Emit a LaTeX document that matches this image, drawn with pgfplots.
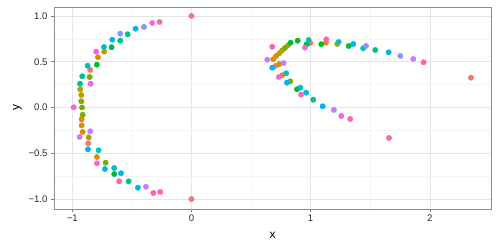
\documentclass[border=0pt]{standalone}
\usepackage{pgfplots}
\pgfplotsset{compat=1.18}
\usepackage{fontspec}
\setmainfont{Liberation Sans}
\definecolor{cR}{HTML}{F8766D}
\definecolor{cO}{HTML}{DE8C00}
\definecolor{cY}{HTML}{B79F00}
\definecolor{cYG}{HTML}{7CAE00}
\definecolor{cG}{HTML}{00BA38}
\definecolor{cTG}{HTML}{00C08B}
\definecolor{cT}{HTML}{00BFC4}
\definecolor{cC}{HTML}{00B4F0}
\definecolor{cB}{HTML}{8C94FF}
\definecolor{cP}{HTML}{C77CFF}
\definecolor{cM}{HTML}{F564E3}
\definecolor{cK}{HTML}{FF64B0}
\begin{document}
\begin{tikzpicture}
\path[use as bounding box] (0,0) rectangle (498bp,249bp);
\begin{axis}[
  at={(54bp,40bp)}, anchor=south west,
  scale only axis, width=437bp, height=202bp,
  xmin=-1.153, xmax=2.513, ymin=-1.109, ymax=1.098,
  xtick={-1,0,1,2}, xticklabels={−1,0,1,2},
  ytick={-1,-0.5,0,0.5,1}, yticklabels={−1.0,−0.5,0.0,0.5,1.0},
  minor xtick={-0.5,0.5,1.5,2.5}, minor ytick={-0.75,-0.25,0.25,0.75},
  grid=both,
  major grid style={color=black!10, line width=0.5pt},
  minor grid style={color=black!4, line width=0.5pt},
  axis line style={color=black!45, line width=0.6pt},
  tick style={color=black!50, line width=0.5pt},
  tick align=outside, major tick length=3bp, minor tick length=0pt,
  xtick pos=bottom, ytick pos=left,
  tick label style={font=\fontsize{9.6}{11}\selectfont, color=black!85},
  xticklabel style={yshift=1bp},
  xlabel={x}, ylabel={y},
  label style={font=\fontsize{12}{14}\selectfont},
  xlabel style={at={(axis description cs:0.5,0)}, yshift=-20bp, anchor=north},
  ylabel style={at={(axis description cs:0,0.5)}, anchor=south, xshift=0bp},
  every axis y label/.append style={at={(ticklabel cs:0.5)}},
  clip=false,
]
\pgfplotsset{dots/.style={only marks, mark=*, mark size=2.7bp, mark options={draw=none}}}
\addplot[dots, color=cR] coordinates {(0,1) (-0.849,0.41) (-0.866,-0.391) (0,-1) (0.997,0.705) (2.345,0.326) (0.709,0.457)};
\addplot[dots, color=cO] coordinates {(-0.784,0.549) (-0.921,-0.129) (-0.921,-0.195) (-0.913,-0.268) (-0.793,-0.541) (0.686,0.527) (0.711,0.563) (1.128,0.708) (0.762,0.352)};
\addplot[dots, color=cY] coordinates {(-0.732,0.61) (-0.933,0.199) (-0.924,0.137) (-0.862,-0.326) (0.737,0.592) (0.759,0.621) (0.81,0.68) (1.223,0.694) (0.737,0.475)};
\addplot[dots, color=cYG] coordinates {(-0.854,0.333) (-0.924,0.068) (-0.918,0.0) (-0.913,-0.079) (-0.72,-0.603) (0.784,0.65) (0.829,0.286)};
\addplot[dots, color=cG] coordinates {(-0.67,0.658) (-0.793,0.468) (-0.648,-0.727) (0.891,0.73) (0.832,0.708) (0.966,0.691) (1.089,0.691) (1.319,0.672) (0.885,0.199)};
\addplot[dots, color=cTG] coordinates {(-0.535,0.80) (-0.597,0.73) (-0.916,0.341) (-0.935,0.26) (-0.527,-0.807) (1.542,0.628) (1.022,0.085)};
\addplot[dots, color=cT] coordinates {(-0.734,0.661) (-0.871,0.457) (-0.779,-0.468) (-0.648,-0.661) (0.983,0.738) (1.235,0.716) (1.441,0.647) (0.795,0.374) (0.913,0.216) (0.963,0.162)};
\addplot[dots, color=cC] coordinates {(-0.468,0.861) (-0.664,0.741) (-0.868,-0.457) (-0.726,-0.672) (-0.591,-0.719) (-0.449,-0.876) (1.357,0.694) (1.654,0.603) (0.678,0.435) (0.801,0.271) (1.101,0.013)};
\addplot[dots, color=cB] coordinates {(-0.398,0.88) (-0.597,0.807) (1.464,0.672) (1.752,0.563)};
\addplot[dots, color=cP] coordinates {(-0.849,-0.26) (-0.938,-0.322) (-0.382,-0.866) (0.636,0.522) (0.773,0.486) (1.195,-0.027) (1.861,0.53)};
\addplot[dots, color=cM] coordinates {(-0.329,0.923) (-0.799,0.61) (-0.846,0.26) (-0.988,0.002) (-0.793,-0.61) (0.952,0.654) (0.732,0.333) (1.257,-0.093)};
\addplot[dots, color=cK] coordinates {(-0.267,0.934) (-0.606,-0.807) (-0.32,-0.934) (-0.262,-0.923) (0.678,0.664) (1.131,0.745) (1.948,0.494) (1.657,-0.333) (0.919,0.14) (1.332,-0.126)};
\end{axis}
\end{tikzpicture}
\end{document}
